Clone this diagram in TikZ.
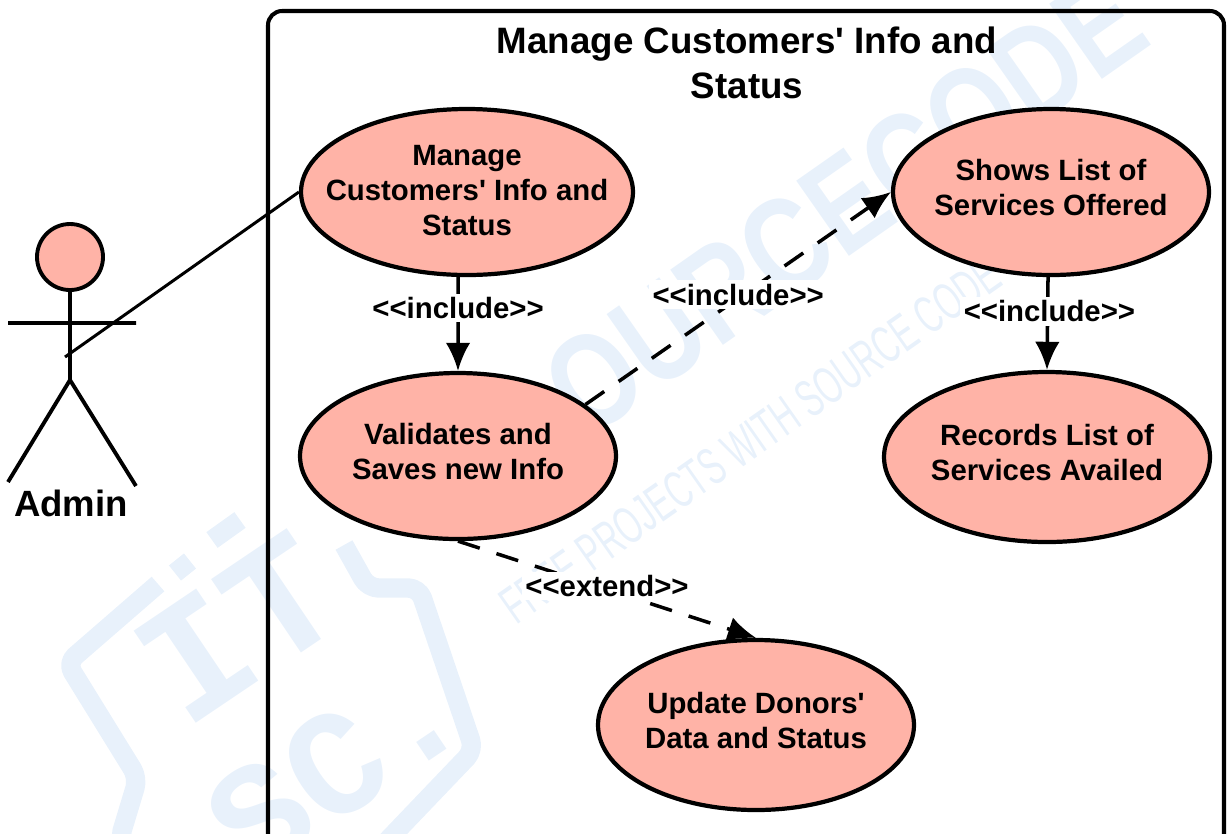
\documentclass[tikz,border=0pt]{standalone}
\usepackage{fontspec}
\setmainfont{Liberation Sans}
\newfontfamily\markmono{Liberation Mono}
\usepackage{tikz}
\usetikzlibrary{shapes.geometric,arrows.meta}
\definecolor{casefill}{HTML}{FFB3A7}
\definecolor{markblue}{HTML}{E8F1FB}
\tikzset{
	usecase/.style={ellipse, draw, fill=casefill, line width=2.4pt, inner xsep=-15pt, inner ysep=0pt, text depth=5pt, align=center, font=\fontsize{16.7}{20}\selectfont\bfseries},
	stick/.style={line width=2.2pt},
	deplabel/.style={fill=white, inner sep=2pt, font=\fontsize{16.7}{20}\selectfont\bfseries},
	dep/.style={line width=2pt, -{Latex[length=16pt,width=14pt]}},
	markline/.style={markblue, line width=11pt, line join=round, rounded corners=6pt},
	marklogo/.style={rotate=34, text=markblue, font=\fontsize{#1}{#1}\markmono\bfseries}
}
\begin{document}
\begin{tikzpicture}[x=0.02cm, y=-0.02cm]
		\useasboundingbox (0,0) rectangle (1230,833);
		\node[rotate=35, text=markblue, font=\fontsize{76}{76}\selectfont\bfseries, xscale=0.8] (markbig) at (815,225) {SOURCECODE};
		\node[rotate=35, text=markblue, font=\fontsize{30}{30}\selectfont, xscale=0.6] (marksmall) at (750,440) {FREE PROJECTS WITH SOURCE CODE};
		\node[marklogo=96] (markit) at (238,628) {IT};
		\node[marklogo=86] (marksc) at (335,765) {SC.};
		\draw[markline] (158,584) -- (67,663) -- (138,778) -- (119,841) -- (166,861) -- (221,908);
		\draw[markline] (344,545) -- (368,588) -- (419,588) -- (474,750) -- (387,841);
		\draw[markline] (175,573) -- (190,561) (212,540) -- (240,520);
		\node[draw, line width=2.3pt, rounded corners=8pt, minimum width=956*0.02cm, minimum height=840*0.02cm, inner sep=0pt] (sys) at (746,431) {};
		\node[align=center, font=\fontsize{20.9}{25.5}\selectfont\bfseries] (systitle) at (747,63) {Manage Customers\textquotesingle{} Info and\\Status};
		\node[usecase, text depth=2pt, minimum width=332*0.02cm, minimum height=166*0.02cm] (manage) at (467,192) {Manage\\Customers\textquotesingle{} Info and\\Status};
		\node[usecase, minimum width=316*0.02cm, minimum height=166*0.02cm] (validate) at (458,456) {Validates and\\Saves new Info};
		\node[usecase, minimum width=316*0.02cm, minimum height=166*0.02cm] (shows) at (1051,192) {Shows List of\\Services Offered};
		\node[usecase, minimum width=326*0.02cm, minimum height=170*0.02cm] (records) at (1047,457) {Records List of\\Services Availed};
		\node[usecase, minimum width=316*0.02cm, minimum height=170*0.02cm] (update) at (756,725) {Update Donors\textquotesingle\\Data and Status};
		\node[circle, draw, fill=casefill, line width=2.2pt, minimum size=66*0.02cm, inner sep=0pt] (head) at (70,257) {};
		\coordinate (hip) at (70,380);
		\coordinate (armL) at (8,323);
		\coordinate (armR) at (136,323);
		\coordinate (footL) at (8,482);
		\coordinate (footR) at (136,486);
		\coordinate (hand) at (65,357);
		\node[font=\fontsize{20.8}{24}\selectfont\bfseries] (admin) at (71,503) {Admin};
		\draw[stick] (head) -- (hip) -- (footL) (hip) -- (footR) (armL) -- (armR);
		\draw[line width=1.7pt] (hand) -- (manage.west);
		\draw[dep] (manage.264) -- node[deplabel, pos=0.33] {<{}<include>{}>} (validate.north);
		\draw[dep] (shows.268) -- node[deplabel, pos=0.37, xshift=1pt] {<{}<include>{}>} (records.north);
		\draw[dep, dashed, dash pattern=on 13pt off 10pt] (validate.22) -- node[deplabel, pos=0.5, yshift=2pt] {<{}<include>{}>} (shows.west);
		\draw[dep, dashed, dash pattern=on 13pt off 10pt] (validate.south) -- node[deplabel, pos=0.5, yshift=2pt] {<{}<extend>{}>} (update.north);
		\end{tikzpicture}
\end{document}
